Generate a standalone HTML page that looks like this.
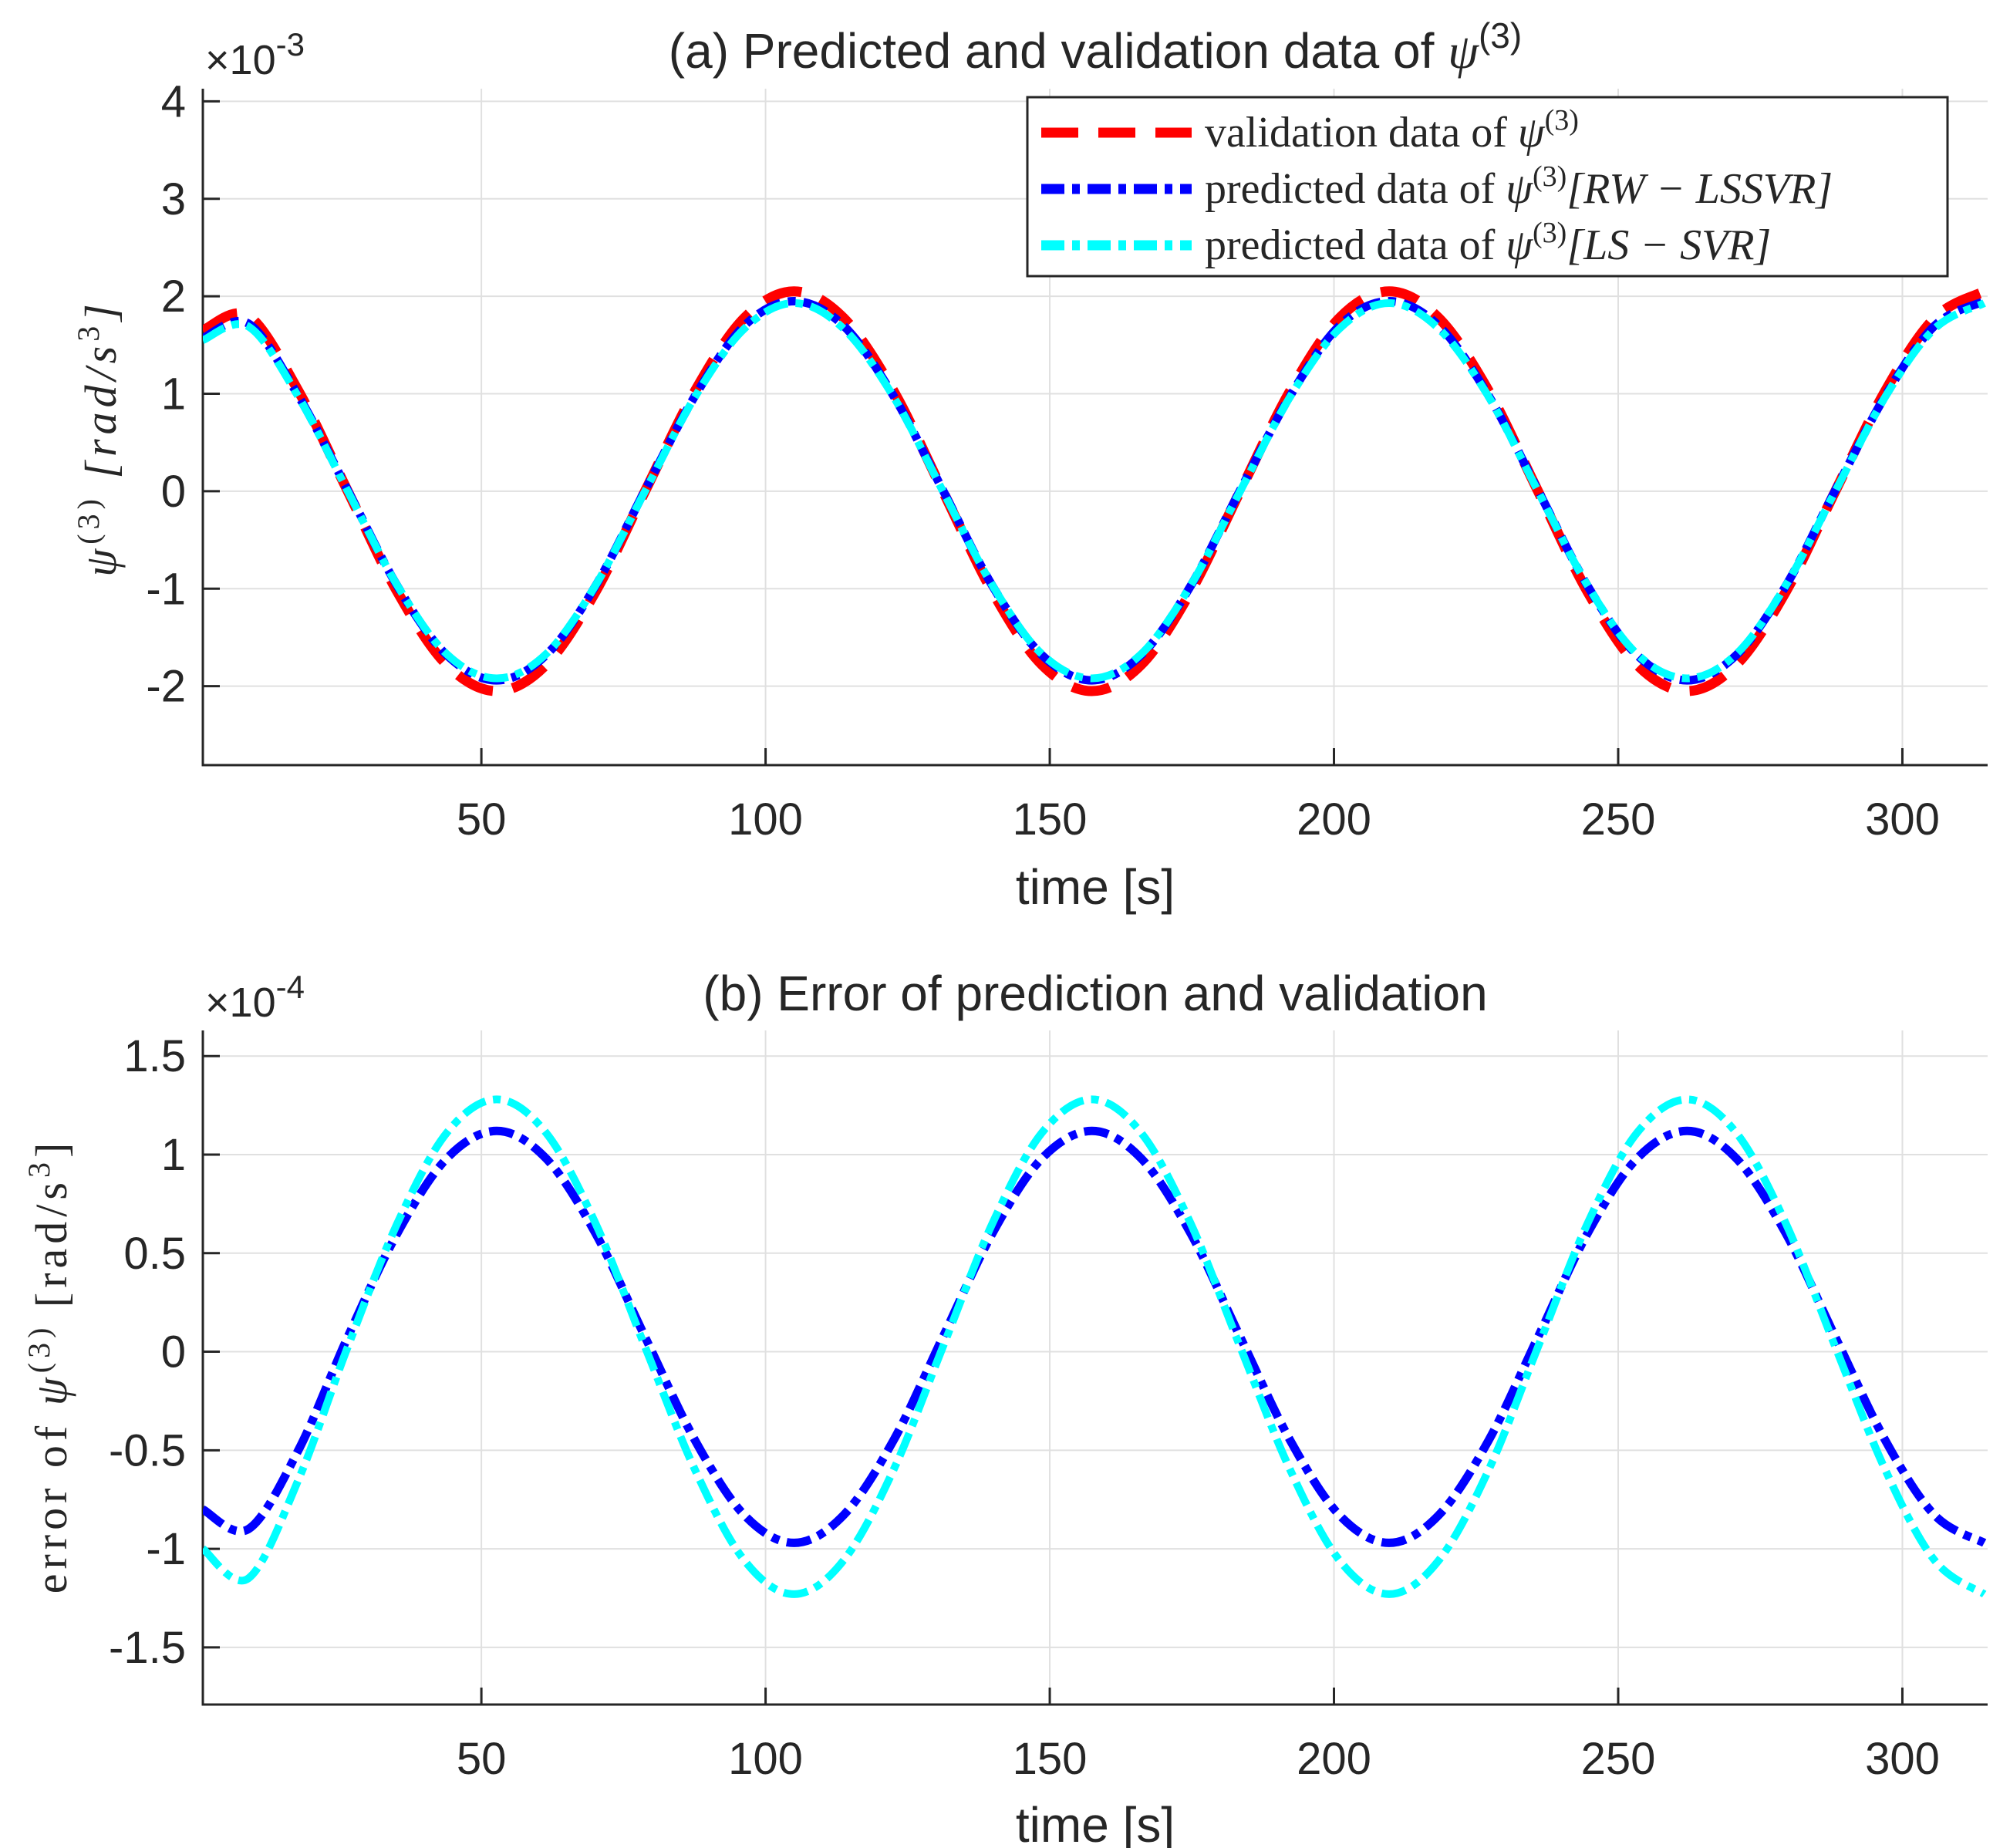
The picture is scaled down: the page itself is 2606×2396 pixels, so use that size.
<!DOCTYPE html>
<html><head><meta charset="utf-8"><style>
html,body{margin:0;padding:0;background:#fff}
svg{display:block}
text{font-family:"Liberation Sans",sans-serif;fill:#262626}
.ser{font-family:"Liberation Serif",serif}
</style></head><body>
<svg id="fig" width="2606" height="2396" viewBox="0 0 2606 2396" xmlns="http://www.w3.org/2000/svg"></svg>
<script>
const times=[1,9.0,17.8,26.5,35.2,43.9,52.7,61.4,70.1,78.8,87.6,96.3,105,113.7,122.5,131.2,139.9,148.6,157.4,166.1,174.8,183.5,192.3,201.0,209.7,218.4,227.2,235.9,244.6,253.3,262.1,270.8,279.5,288.2,297.0,305.7,314.4];
const validation=[1.65,1.80,1.03,0,-1.03,-1.78,-2.05,-1.78,-1.03,0,1.03,1.78,2.05,1.78,1.03,0,-1.03,-1.78,-2.05,-1.78,-1.03,0,1.03,1.78,2.05,1.78,1.03,0,-1.03,-1.78,-2.05,-1.78,-1.03,0,1.03,1.78,2.05];
const predRW=[1.57,1.72,0.98,0.01,-0.97,-1.68,-1.94,-1.68,-0.97,0.01,0.98,1.70,1.95,1.70,0.98,0.01,-0.97,-1.68,-1.94,-1.68,-0.97,0.01,0.98,1.70,1.95,1.70,0.98,0.01,-0.97,-1.68,-1.94,-1.68,-0.97,0.01,0.98,1.70,1.95];
const predLS=[1.55,1.69,0.97,0,-0.965,-1.67,-1.92,-1.67,-0.965,0,0.97,1.67,1.93,1.67,0.97,0,-0.965,-1.67,-1.92,-1.67,-0.965,0,0.97,1.67,1.93,1.67,0.97,0,-0.965,-1.67,-1.92,-1.67,-0.965,0,0.97,1.67,1.93];
const errRW=[-0.80,-0.90,-0.50,0.075,0.60,0.98,1.12,0.98,0.60,0.075,-0.45,-0.83,-0.97,-0.83,-0.45,0.075,0.60,0.98,1.12,0.98,0.60,0.075,-0.45,-0.83,-0.97,-0.83,-0.45,0.075,0.60,0.98,1.12,0.98,0.60,0.075,-0.45,-0.83,-0.97];
const errLS=[-1.00,-1.15,-0.65,0.025,0.65,1.11,1.28,1.11,0.65,0.025,-0.60,-1.06,-1.23,-1.06,-0.60,0.025,0.65,1.11,1.28,1.11,0.65,0.025,-0.60,-1.06,-1.23,-1.06,-0.60,0.025,0.65,1.11,1.28,1.11,0.65,0.025,-0.60,-1.06,-1.23];
const xTicks=[50,100,150,200,250,300];
const yTicksA=[4,3,2,1,0,-1,-2];
const yTicksB=[1.5,1,0.5,0,-0.5,-1,-1.5];

const NS="http://www.w3.org/2000/svg";
const svg=document.getElementById('fig');
function mk(tag,attrs,parent){const e=document.createElementNS(NS,tag);for(const k in attrs)e.setAttribute(k,attrs[k]);(parent||svg).appendChild(e);return e;}

function catmull(pts){
  let d="M"+pts[0][0].toFixed(1)+","+pts[0][1].toFixed(1);
  for(let i=0;i<pts.length-1;i++){
    const p0=pts[Math.max(0,i-1)],p1=pts[i],p2=pts[i+1],p3=pts[Math.min(pts.length-1,i+2)];
    const c1=[p1[0]+(p2[0]-p0[0])/6,p1[1]+(p2[1]-p0[1])/6];
    const c2=[p2[0]-(p3[0]-p1[0])/6,p2[1]-(p3[1]-p1[1])/6];
    d+=" C"+c1[0].toFixed(1)+","+c1[1].toFixed(1)+" "+c2[0].toFixed(1)+","+c2[1].toFixed(1)+" "+p2[0].toFixed(1)+","+p2[1].toFixed(1);
  }
  return d;
}

function panel(cfg){
  const g=mk('g',{});
  
  
  const L=263,R=2577,T=cfg.top,B=cfg.bottom;
  const xs=v=>L+(v-1)/(315-1)*(R-L);
  const ys=v=>T+(cfg.ymax-v)/(cfg.ymax-cfg.ymin)*(B-T);
  xTicks.forEach(t=>{
    const l=mk('line',{x1:xs(t),x2:xs(t),y1:T,y2:B,stroke:'#e0e0e0','stroke-width':2},g);
    
    
  });
  cfg.yTicks.forEach(t=>{
    const l=mk('line',{x1:L,x2:R,y1:ys(t),y2:ys(t),stroke:'#e0e0e0','stroke-width':2},g);
    
    
  });
  const ax=mk('path',{d:`M${L},${T} V${B} H${R}`,fill:'none',stroke:'#262626','stroke-width':3},g);
  
  
  xTicks.forEach(t=>{
    mk('line',{x1:xs(t),x2:xs(t),y1:B,y2:B-22,stroke:'#262626','stroke-width':3},g);
    const tx=mk('text',{x:xs(t),y:B+90,'font-size':58,'text-anchor':'middle'},g);
    tx.textContent=t;
    
    
  });
  cfg.yTicks.forEach(t=>{
    mk('line',{x1:L,x2:L+22,y1:ys(t),y2:ys(t),stroke:'#262626','stroke-width':3},g);
    const tx=mk('text',{x:L-22,y:ys(t)+20,'font-size':58,'text-anchor':'end'},g);
    tx.textContent=String(t);
    
    
  });
  const clip=mk('clipPath',{id:'clip'+cfg.name},g);
  mk('rect',{x:L,y:T-10,width:R-L+10,height:B-T+10},clip);
  cfg.series.forEach(s=>{
    const pts=times.map((t,i)=>[xs(t),ys(s.data[i])]);
    const p=mk('path',{d:catmull(pts),fill:'none',stroke:s.color,'stroke-width':s.w,'stroke-dasharray':s.dash,'clip-path':`url(#clip${cfg.name})`},g);
    
    
  });
  return {xs,ys,g,L,R,T,B};
}

const A=panel({name:'panel-a',top:115,bottom:992,ymin:-2.81,ymax:4.13,yTicks:yTicksA,series:[
  {name:'validation-line',data:validation,color:'#ff0000',w:13,dash:'50 26'},
  {name:'rw-lssvr-line',data:predRW,color:'#0000ff',w:11,dash:'32 10 10 10'},
  {name:'ls-svr-line',data:predLS,color:'#00ffff',w:10,dash:'32 10 10 10'}
]});
const Bp=panel({name:'panel-b',top:1336,bottom:2210,ymin:-1.79,ymax:1.63,yTicks:yTicksB,series:[
  {name:'rw-lssvr-error-line',data:errRW,color:'#0000ff',w:11,dash:'32 10 10 10'},
  {name:'ls-svr-error-line',data:errLS,color:'#00ffff',w:10,dash:'32 10 10 10'}
]});
</script>

<svg style="position:absolute;left:0;top:0" width="2606" height="2396">
  <text x="1420" y="88" font-size="64" text-anchor="middle">(a) Predicted and validation data of <tspan class="ser" font-style="italic">ψ</tspan><tspan dy="-26" font-size="46">(3)</tspan></text>
  <text x="266" y="96" font-size="54">×10<tspan dy="-24" font-size="42">-3</tspan></text>
  <text class="ser" transform="translate(150,568) rotate(-90)" font-size="58" text-anchor="middle" font-style="italic" letter-spacing="6">ψ<tspan dy="-22" font-size="40" font-style="normal">(3)</tspan><tspan dy="22">  [rad/s</tspan><tspan dy="-22" font-size="40" font-style="normal">3</tspan><tspan dy="22">]</tspan></text>
  <text x="1420" y="1172" font-size="64" text-anchor="middle">time [s]</text>

  <g>
    <rect x="1332" y="126" width="1193" height="232" fill="#fff" stroke="#262626" stroke-width="3"/>
    <line x1="1350" y1="172" x2="1545" y2="172" stroke="#ff0000" stroke-width="13" stroke-dasharray="48 26"/>
    <text class="ser" x="1562" y="190" font-size="56">validation data of <tspan font-style="italic">ψ</tspan><tspan dy="-22" font-size="38">(3)</tspan></text>
    <line x1="1350" y1="245" x2="1545" y2="245" stroke="#0000ff" stroke-width="13" stroke-dasharray="30 10 10 10"/>
    <text class="ser" x="1562" y="263" font-size="56">predicted data of <tspan font-style="italic">ψ</tspan><tspan dy="-22" font-size="38">(3)</tspan><tspan dy="22" font-style="italic">[RW − LSSVR]</tspan></text>
    <line x1="1350" y1="318" x2="1545" y2="318" stroke="#00ffff" stroke-width="13" stroke-dasharray="30 10 10 10"/>
    <text class="ser" x="1562" y="336" font-size="56">predicted data of <tspan font-style="italic">ψ</tspan><tspan dy="-22" font-size="38">(3)</tspan><tspan dy="22" font-style="italic">[LS − SVR]</tspan></text>
  </g>

  <text x="1420" y="1310" font-size="64" text-anchor="middle">(b) Error of prediction and validation</text>
  <text x="266" y="1318" font-size="54">×10<tspan dy="-24" font-size="42">-4</tspan></text>
  <text class="ser" transform="translate(86,1771) rotate(-90)" font-size="58" text-anchor="middle" letter-spacing="6">error of <tspan font-style="italic">ψ</tspan><tspan dy="-22" font-size="40">(3)</tspan><tspan dy="22">  [rad/s</tspan><tspan dy="-22" font-size="40">3</tspan><tspan dy="22">]</tspan></text>
  <text x="1420" y="2388" font-size="64" text-anchor="middle">time [s]</text>
</svg>
</body></html>
